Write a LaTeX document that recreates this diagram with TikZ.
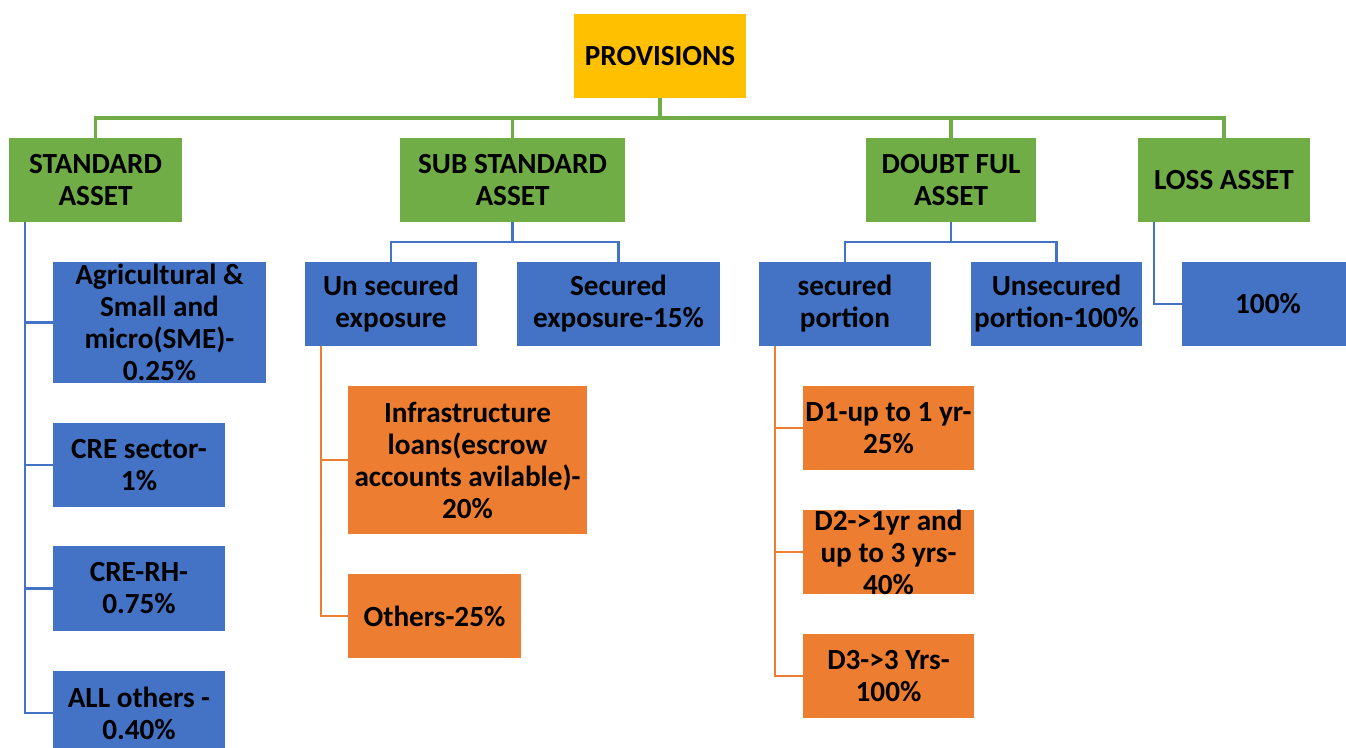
\documentclass[tikz,border=0pt]{standalone}
\usepackage{fontspec}
\setmainfont{Carlito}
\definecolor{pgold}{HTML}{FFC000}
\definecolor{pgreen}{HTML}{70AD47}
\definecolor{pblue}{HTML}{4472C4}
\definecolor{porange}{HTML}{ED7D31}
\tikzset{
  box/.style={inner sep=0pt, outer sep=0pt, align=center,
    font=\bfseries\fontsize{29.2}{32}\selectfont, text=black},
  topbox/.style={box, fill=pgold},
  catbox/.style={box, fill=pgreen},
  bluebox/.style={box, fill=pblue},
  orbox/.style={box, fill=porange},
  gline/.style={draw=pgreen, line width=3.4pt},
  bline/.style={draw=pblue, line width=2.9pt},
  oline/.style={draw=porange, line width=2.9pt},
}
\begin{document}
\begin{tikzpicture}[x=1pt, y=-1pt]
\useasboundingbox (0,0) rectangle (1346,747);
\clip (0,0) rectangle (1346,747);

% root
\node[topbox, minimum width=172pt, minimum height=84pt] (prov) at (660,56) {PROVISIONS};

% asset categories
\node[catbox, minimum width=173pt, minimum height=84pt] (std) at (95.5,180) {STANDARD\\ASSET};
\node[catbox, minimum width=225pt, minimum height=84pt] (sub) at (512.5,180) {SUB STANDARD\\ASSET};
\node[catbox, minimum width=170pt, minimum height=84pt] (doubt) at (951,180) {DOUBT FUL\\ASSET};
\node[catbox, minimum width=172pt, minimum height=84pt] (loss) at (1224,180) {LOSS ASSET};

% standard asset rates
\node[bluebox, minimum width=213pt, minimum height=121pt] (agri) at (159.5,322.5) {Agricultural \&\\Small and\\micro(SME)-\\0.25\%};
\node[bluebox, minimum width=172pt, minimum height=84pt] (cre) at (139,465) {CRE sector-\\1\%};
\node[bluebox, minimum width=172pt, minimum height=85pt] (crerh) at (139,588.5) {CRE-RH-\\0.75\%};
\node[bluebox, minimum width=172pt, minimum height=84pt] (allo) at (139,713) {ALL others -\\0.40\%};

% sub standard split
\node[bluebox, minimum width=172pt, minimum height=84pt] (unsec) at (391,304) {Un secured\\exposure};
\node[bluebox, minimum width=203pt, minimum height=84pt] (sec) at (618.5,304) {Secured\\exposure-15\%};
\node[orbox, minimum width=239pt, minimum height=148pt] (infra) at (467.5,460) {Infrastructure\\loans(escrow\\accounts avilable)-\\20\%};
\node[orbox, minimum width=173pt, minimum height=84pt] (oth) at (434.5,616) {Others-25\%};

% doubtful split
\node[bluebox, minimum width=172pt, minimum height=84pt] (secp) at (845,304) {secured\\portion};
\node[bluebox, minimum width=171pt, minimum height=84pt] (unsecp) at (1056.5,304) {Unsecured\\portion-100\%};
\node[orbox, minimum width=171pt, minimum height=84pt] (d1) at (888.5,428) {D1-up to 1 yr-\\25\%};
\node[orbox, minimum width=171pt, minimum height=84pt] (d2) at (888.5,552) {D2->1yr and\\up to 3 yrs-\\40\%};
\node[orbox, minimum width=171pt, minimum height=84pt] (d3) at (888.5,676) {D3->3 Yrs-\\100\%};

% loss
\node[bluebox, minimum width=172pt, minimum height=84pt] (hund) at (1268,304) {100\%};

% bus lines and trunk positions
\coordinate (gbus) at (0,118);
\coordinate (sbus) at (0,242);
\coordinate (stdx) at (25,0);
\coordinate (lossx) at (1154,0);
\coordinate (unsx) at (321,0);
\coordinate (secx) at (775,0);

% root to categories
\draw[gline] (prov.south) -- (prov.south |- gbus);
\draw[gline] (std.north) -- (std.north |- gbus) -- (loss.north |- gbus) -- (loss.north);
\draw[gline] (sub.north) -- (sub.north |- gbus);
\draw[gline] (doubt.north) -- (doubt.north |- gbus);

% standard asset trunk
\draw[bline] (stdx |- std.south) -- (stdx |- allo.west) -- (allo.west);
\draw[bline] (stdx |- agri.west) -- (agri.west);
\draw[bline] (stdx |- cre.west) -- (cre.west);
\draw[bline] (stdx |- crerh.west) -- (crerh.west);

% sub standard split
\draw[bline] (sub.south) -- (sub.south |- sbus);
\draw[bline] (unsec.north) -- (unsec.north |- sbus) -- (sec.north |- sbus) -- (sec.north);

% doubtful split
\draw[bline] (doubt.south) -- (doubt.south |- sbus);
\draw[bline] (secp.north) -- (secp.north |- sbus) -- (unsecp.north |- sbus) -- (unsecp.north);

% loss
\draw[bline] (lossx |- loss.south) |- (hund.west);

% unsecured exposure trunk
\draw[oline] (unsx |- unsec.south) |- (oth.west);
\draw[oline] (unsx |- infra.west) -- (infra.west);

% secured portion trunk
\draw[oline] (secx |- secp.south) |- (d3.west);
\draw[oline] (secx |- d1.west) -- (d1.west);
\draw[oline] (secx |- d2.west) -- (d2.west);
\end{tikzpicture}
\end{document}
